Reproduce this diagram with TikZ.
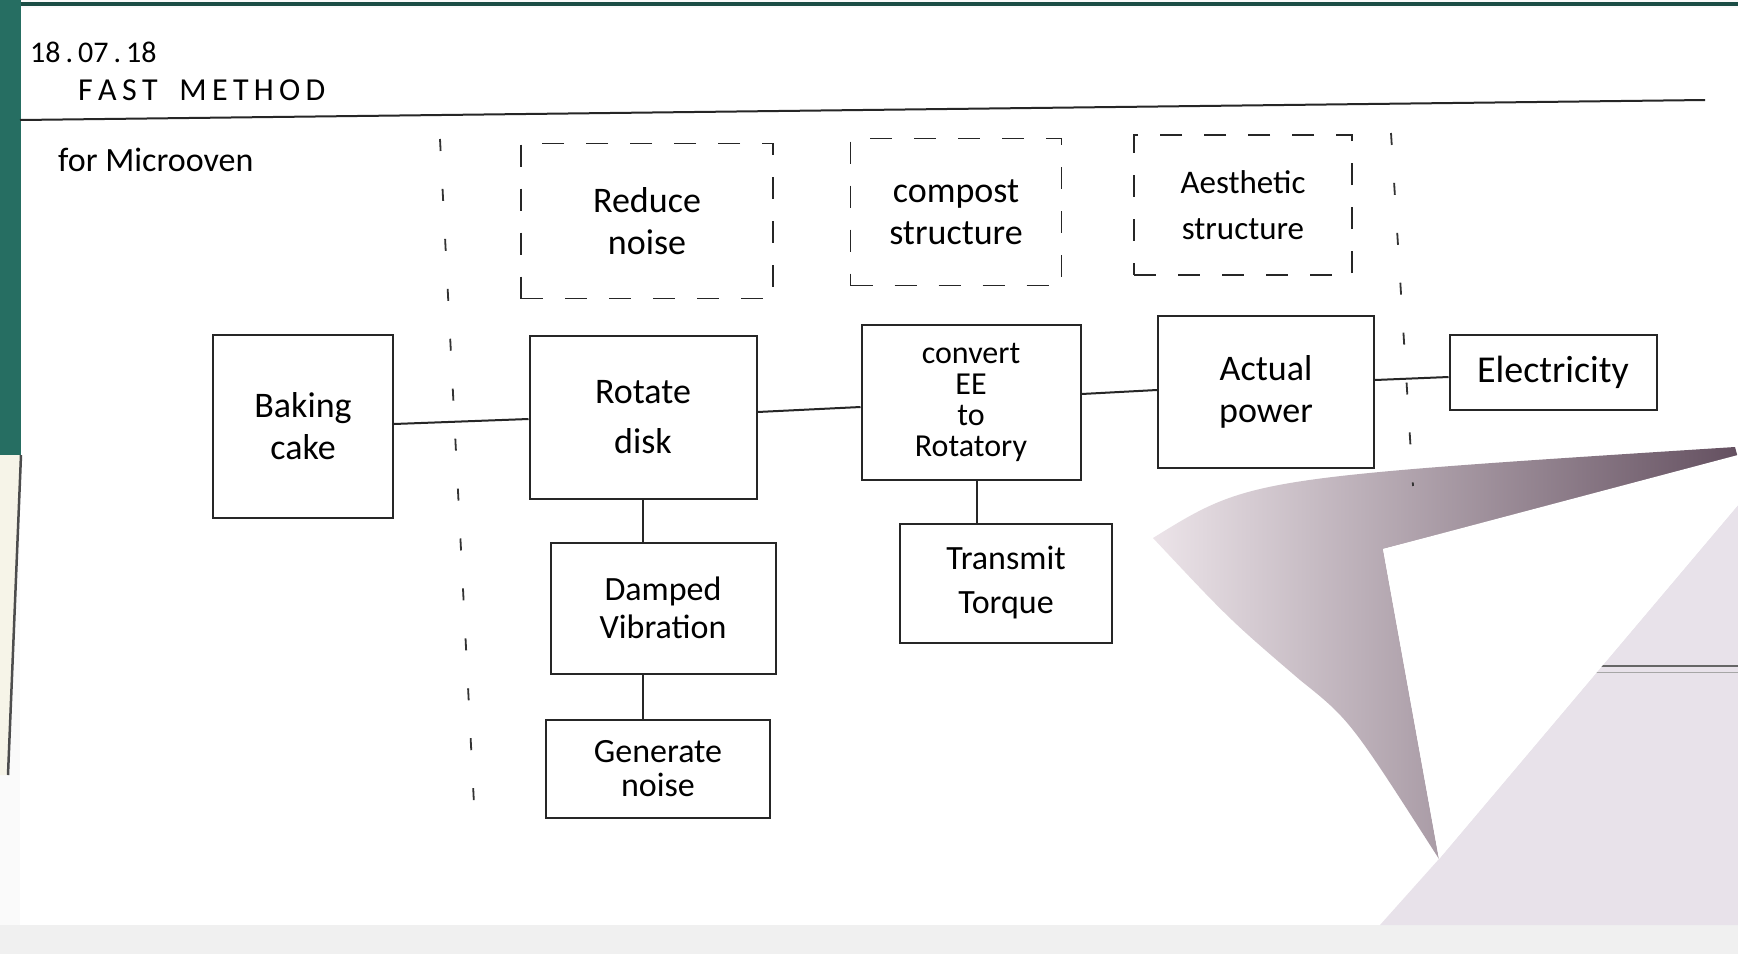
\documentclass[tikz,border=0pt]{standalone}
\usepackage{fontspec}
\setmainfont{Carlito}
\definecolor{shdark}{RGB}{100,80,96}
\definecolor{shlight}{RGB}{236,228,233}
\definecolor{under}{RGB}{232,226,234}
\definecolor{greenedge}{RGB}{38,110,98}
\definecolor{cream}{RGB}{246,244,232}
\begin{document}
\begin{tikzpicture}[x=1pt,y=-1pt,
  box/.style={draw=black!85,line width=2pt,inner sep=2pt,align=center,font=\fontsize{36}{42}\selectfont},
  dbox/.style={box,dash pattern=on 22pt off 22pt,line width=1.6pt},
  link/.style={draw=black!85,line width=2pt},
  divider/.style={draw=black!80,line width=1.8pt,dash pattern=on 12pt off 38pt},
  hand/.style={font=\fontsize{34}{40}\selectfont,anchor=west,inner sep=0pt}]
\useasboundingbox (0,0) rectangle (1738,954);
% paper
\fill[white!96!gray] (0,0) rectangle (1738,954);
\fill[white] (20,8) rectangle (1738,925);
\fill[greenedge] (0,0) rectangle (21,455);
\fill[cream] (0,455) -- (21,455) -- (8,775) -- (0,775) -- cycle;
\draw[black!70,line width=2.5pt] (21,455) -- (8,775);
\draw[greenedge!70!black,line width=4pt] (21,4) -- (1738,4);
\fill[gray!12] (0,925) rectangle (1738,954);
% folded corner
\fill[under] (1439,859) -- (1738,505) -- (1738,925) -- (1380,925) -- cycle;
\draw[black!60,line width=1.5pt] (1585,666) -- (1738,666);
\draw[black!35,line width=1pt] (1585,672) -- (1738,672);
\shade[left color=shlight, right color=shdark]
  (1153,538) .. controls (1250,478) .. (1735,447) -- (1738,458) -- (1383,549)
  -- (1439,859) .. controls (1350,720) .. (1300,680) .. controls (1230,620) .. cycle;
\fill[white] (1383,549) -- (1738,455) -- (1738,505) -- (1439,859) -- cycle;
% header
\node[hand,font=\fontsize{30}{34}\selectfont] (date) at (30,52) {18\,.\,07\,.\,18};
\node[hand,font=\fontsize{32}{36}\selectfont] (title) at (78,90) {F\,A\,S\,T\ \ \ M\,E\,T\,H\,O\,D};
\coordinate (hl) at (20,120);
\coordinate (hr) at (1705,100);
\draw[black!85,line width=2pt] (hl) -- (hr);
\node[hand] (for) at (58,160) {for Microoven};
% scope lines
\coordinate (d1t) at (440,139);
\coordinate (d1b) at (474,804);
\coordinate (d2t) at (1391,133);
\coordinate (d2b) at (1413,486);
\draw[divider] (d1t) -- (d1b);
\draw[divider] (d2t) -- (d2b);
% dashed boxes
\node[dbox,minimum width=252pt,minimum height=155pt] (reduce) at (647,221) {Reduce\\noise};
\node[dbox,minimum width=211pt,minimum height=147pt] (compost) at (956,212) {compost\\structure};
\node[dbox,minimum width=218pt,minimum height=140pt,font=\fontsize{33}{46}\selectfont] (aesth) at (1243,205) {Aesthetic\\structure};
% main boxes
\node[box,minimum width=180pt,minimum height=183pt] (bake) at (303,426) {Baking\\cake};
\node[box,minimum width=227pt,minimum height=163pt,font=\fontsize{36}{50}\selectfont] (rotate) at (643,417) {Rotate\\disk};
\node[box,minimum width=219pt,minimum height=155pt,font=\fontsize{32}{31}\selectfont] (conv) at (971,402) {convert\\EE\\to\\Rotatory};
\node[box,minimum width=216pt,minimum height=152pt] (power) at (1266,392) {Actual\\power};
\node[box,minimum width=207pt,minimum height=75pt,font=\fontsize{38}{42}\selectfont] (elec) at (1553,372) {Electricity};
\node[box,minimum width=225pt,minimum height=131pt,font=\fontsize{34}{38}\selectfont] (damp) at (663,608) {Damped\\Vibration};
\node[box,minimum width=224pt,minimum height=98pt,font=\fontsize{34}{34}\selectfont] (gen) at (658,769) {Generate\\noise};
\node[box,minimum width=212pt,minimum height=119pt,font=\fontsize{34}{44}\selectfont] (trans) at (1006,583) {Transmit\\Torque};
% connectors
\draw[link] ([yshift=2pt]bake.east) -- ([yshift=-2pt]rotate.west);
\draw[link] ([yshift=5pt]rotate.east) -- ([yshift=-5pt]conv.west);
\draw[link] ([yshift=8pt]conv.east) -- ([yshift=2pt]power.west);
\draw[link] ([yshift=12pt]power.east) -- ([yshift=-5pt]elec.west);
\draw[link] (rotate.south) -- (rotate.south |- damp.north);
\coordinate (ds) at ([xshift=-20pt]damp.south);
\draw[link] (ds) -- (ds |- gen.north);
\coordinate (cs) at ([xshift=6pt]conv.south);
\draw[link] (cs) -- (cs |- trans.north);
\end{tikzpicture}
\end{document}
